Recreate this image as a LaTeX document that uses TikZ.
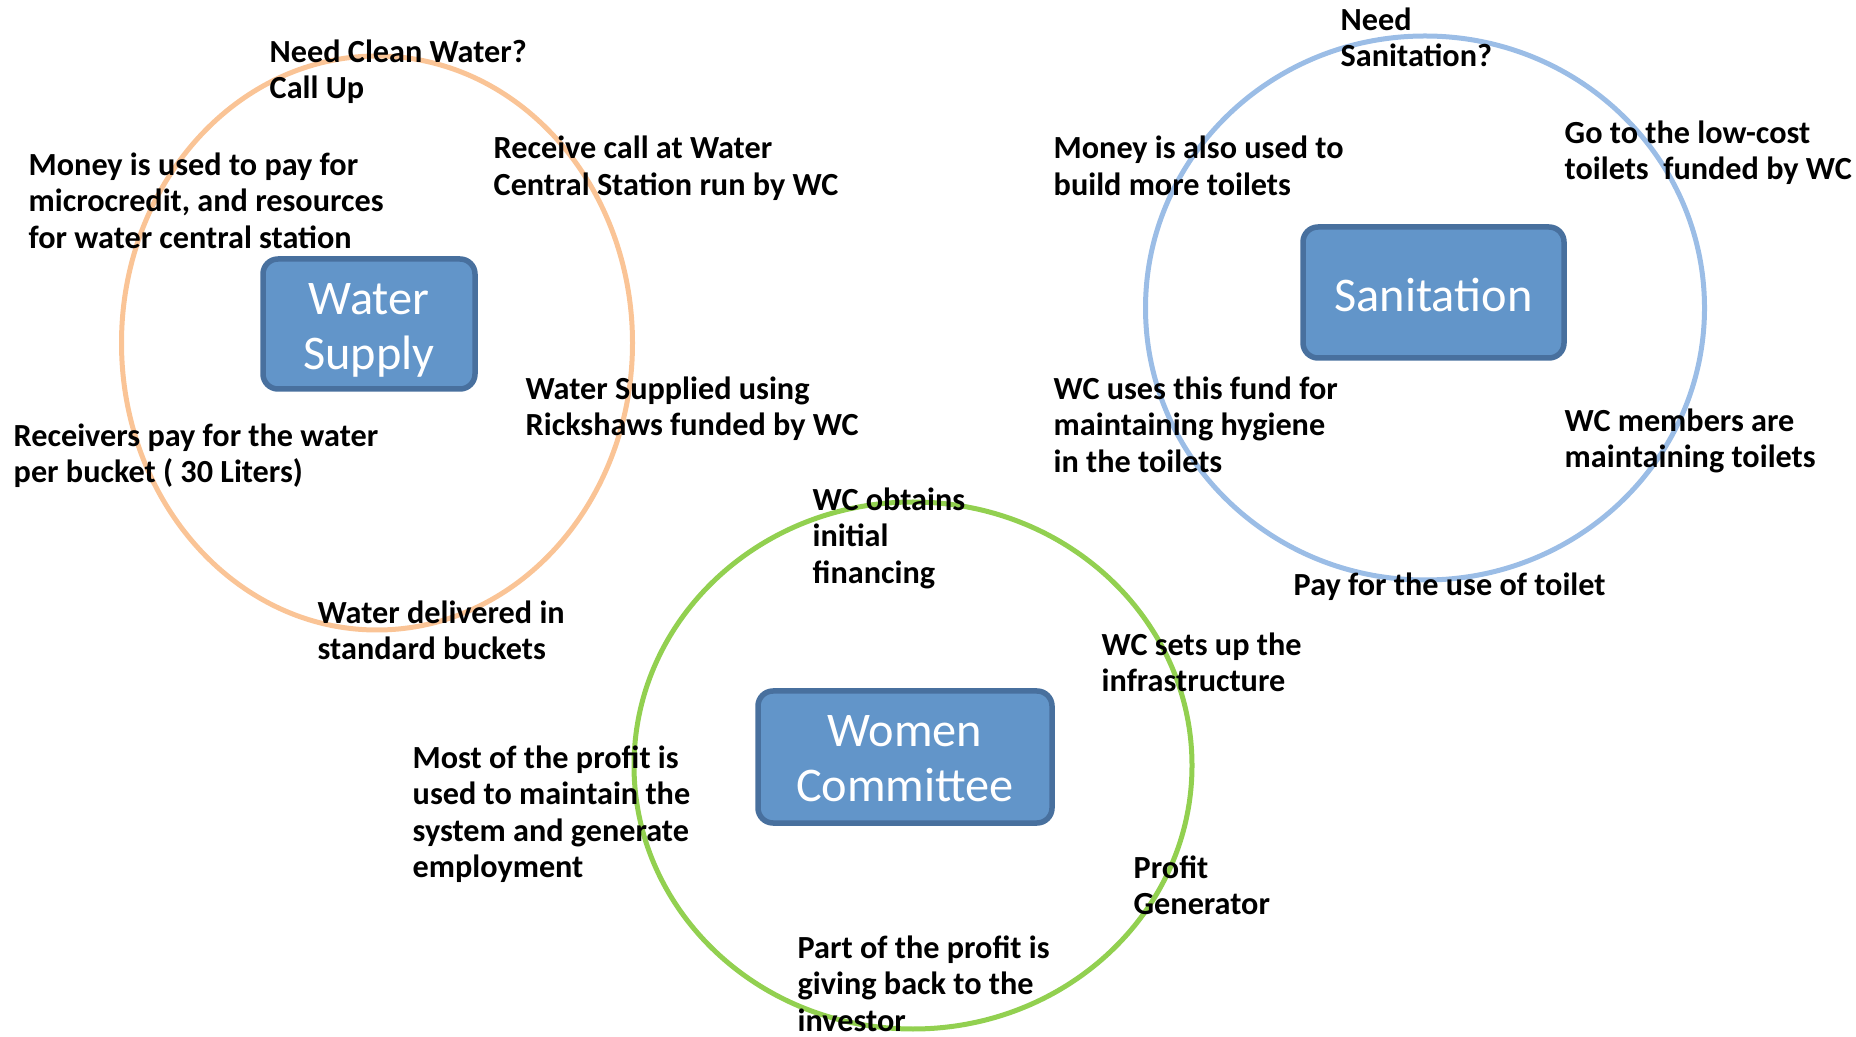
\documentclass[tikz,border=0pt]{standalone}
\usepackage{fontspec}
\setmainfont{Carlito}
\definecolor{ringorange}{RGB}{250,196,150}
\definecolor{ringblue}{RGB}{155,189,230}
\definecolor{ringgreen}{RGB}{146,208,80}
\definecolor{hubfill}{RGB}{98,149,201}
\definecolor{hubline}{RGB}{72,112,158}
\begin{document}
\begin{tikzpicture}[
  ring/.style={line width=0.05cm},
  hub/.style={draw=hubline, fill=hubfill, line width=0.055cm, rounded corners=0.15cm,
    text=white, align=center, text depth=0pt, font=\fontsize{13.75}{15.65}\selectfont},
  lbl/.style={anchor=base west, align=left, inner sep=0pt,
    font=\bfseries\fontsize{9.17}{10.4}\selectfont}]
\useasboundingbox (0,0) rectangle (18.56,10.36);

% the three cycles
\draw [ring, draw=ringorange] (3.77,6.93) ellipse [x radius=2.555, y radius=2.87];
\draw [ring, draw=ringblue] (14.25,7.28) ellipse [x radius=2.795, y radius=2.72];
\draw [ring, draw=ringgreen] (9.13,2.705) ellipse [x radius=2.79, y radius=2.635];

\node [hub, text height=0.92cm, minimum width=2.12cm, minimum height=1.30cm] (water) at (3.69,7.12) {Water\\Supply};
\node [hub, text height=0.38cm, minimum width=2.61cm, minimum height=1.31cm] (sanit) at (14.335,7.435) {Sanitation};
\node [hub, text height=0.894cm, minimum width=2.94cm, minimum height=1.32cm] (women) at (9.05,2.79) {Women\\Committee};

% water supply (labels sit on the baseline of their last line)
\node [lbl] (callup) at (2.69,9.37) {Need Clean Water?\\Call Up};
\node [lbl] (receive) at (4.93,8.409) {Receive call at Water\\Central Station run by WC};
\node [lbl] (rickshaw) at (5.25,6.004) {Water Supplied using\\Rickshaws funded by WC};
\node [lbl] (delivered) at (3.17,3.764) {Water delivered in\\standard buckets};
\node [lbl] (receivers) at (0.13,5.534) {Receivers pay for the water\\per bucket ( 30 Liters)};
\node [lbl] (moneyuse) at (0.28,7.878) {Money is used to pay for\\microcredit, and resources\\for water central station};

% sanitation
\node [lbl] (needsan) at (13.40,9.694) {Need\\Sanitation?};
\node [lbl] (lowcost) at (15.64,8.564) {Go to the low-cost\\toilets\ \ funded by WC};
\node [lbl] (members) at (15.64,5.684) {WC members are\\maintaining toilets};
\node [lbl] (paytoilet) at (12.93,4.40) {Pay for the use of toilet};
\node [lbl] (hygiene) at (10.53,5.638) {WC uses this fund for\\maintaining hygiene\\in the toilets};
\node [lbl] (moneytoilet) at (10.53,8.409) {Money is also used to\\build more toilets};

% women committee
\node [lbl] (financing) at (8.12,4.528) {WC obtains\\initial\\financing};
\node [lbl] (infra) at (11.01,3.444) {WC sets up the\\infrastructure};
\node [lbl] (generator) at (11.33,1.214) {Profit\\Generator};
\node [lbl] (investor) at (7.97,0.048) {Part of the profit is\\giving back to the\\investor};
\node [lbl] (maintain) at (4.12,1.582) {Most of the profit is\\used to maintain the\\system and generate\\employment};
\end{tikzpicture}
\end{document}
